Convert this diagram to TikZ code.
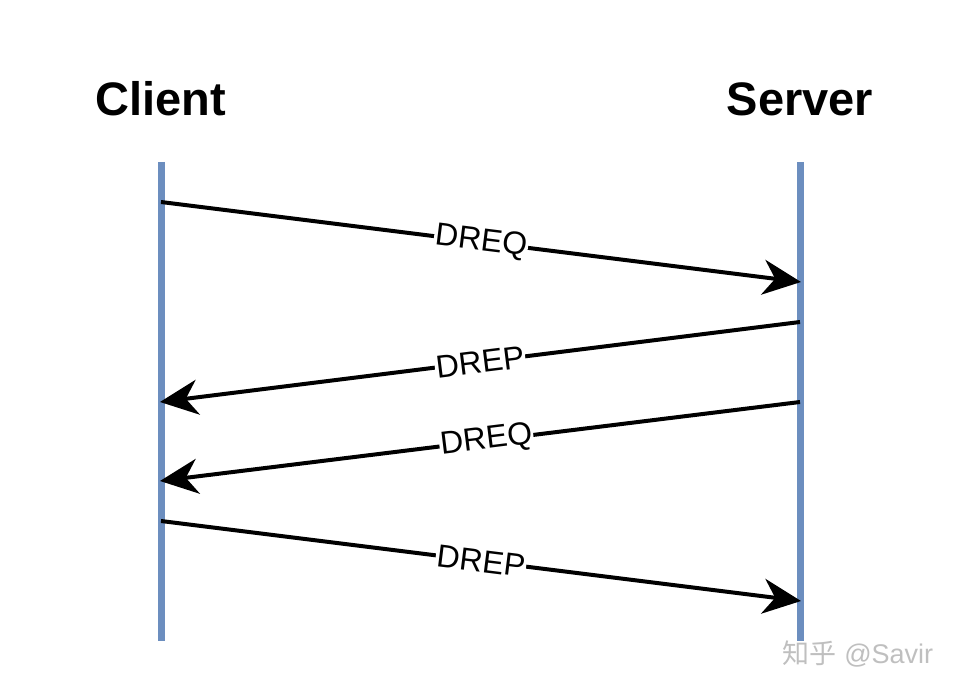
\documentclass[tikz,border=0pt]{standalone}
\usepackage{fontspec}
\setmainfont{Liberation Sans}
\newfontfamily\cjk{Noto Sans CJK SC}
\usetikzlibrary{arrows.meta}
\definecolor{lifeblue}{HTML}{6C8EBF}
\begin{document}
\begin{tikzpicture}[x=1pt,y=-1pt,
  lifeline/.style={draw=lifeblue,line width=7pt},
  msg/.style={draw=black,line width=4pt,-{Stealth[length=38pt,width=35pt,inset=12pt]}},
  msglabel/.style={fill=white,inner sep=1pt,font=\fontsize{32}{36}\selectfont,sloped},
  actor/.style={font=\bfseries\fontsize{47}{54}\selectfont}]
\useasboundingbox (0,0) rectangle (964,692);
\node[actor] (client) at (161,99) {Client};
\node[actor] (server) at (800,99) {Server};
\coordinate (ctop) at (161,162);
\coordinate (cbot) at (161,641);
\coordinate (stop) at (800,162);
\coordinate (sbot) at (800,641);
\draw[lifeline] (ctop) -- (cbot);
\draw[lifeline] (stop) -- (sbot);
\coordinate (c1) at (161,202);
\coordinate (s1) at (801,282);
\coordinate (s2) at (800,322);
\coordinate (c2) at (160,402);
\coordinate (s3) at (800,402);
\coordinate (c3) at (160,481);
\coordinate (c4) at (161,521);
\coordinate (s4) at (801,601);
\draw[msg] (c1) -- node[msglabel,pos=0.5] (l1) {DREQ} (s1);
\draw[msg] (s2) -- node[msglabel,pos=0.5] (l2) {DREP} (c2);
\draw[msg] (s3) -- node[msglabel,pos=0.49] (l3) {DREQ} (c3);
\draw[msg] (c4) -- node[msglabel,pos=0.5] (l4) {DREP} (s4);
\node[text=gray!50,font=\fontsize{27}{30}\selectfont] (wm) at (858,654) {{\cjk 知乎} @Savir};
\end{tikzpicture}
\end{document}
